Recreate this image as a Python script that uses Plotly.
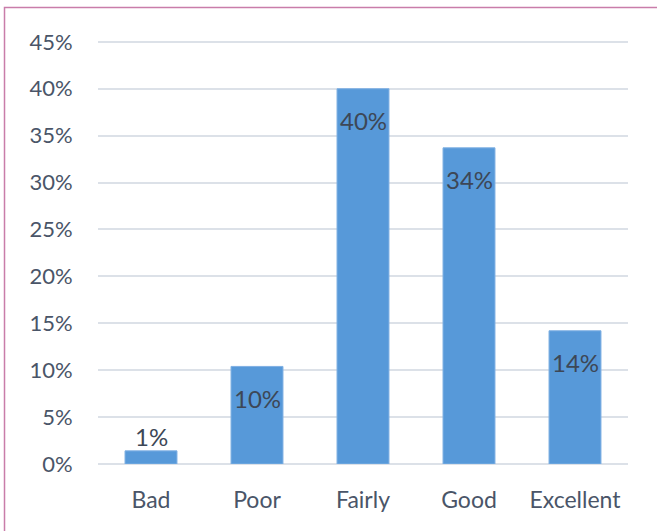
import plotly.graph_objects as go

categories = ["Bad", "Poor", "Fairly", "Good", "Excellent"]
values = [1.4, 10.4, 40.0, 33.7, 14.2]
labels = ["1%", "10%", "40%", "34%", "14%"]
tick_vals = [0, 5, 10, 15, 20, 25, 30, 35, 40, 45]
tick_text = ["0%", "5%", "10%", "15%", "20%", "25%", "30%", "35%", "40%", "45%"]

font_family = "Lato, 'Open Sans', sans-serif"
tick_color = "#4A5568"
label_color = "#3D4756"

fig = go.Figure()
fig.add_trace(go.Bar(
    x=categories, y=values,
    marker=dict(color="#5799D9", line=dict(color="#7FB0E3", width=1)),
    width=0.49,
    hoverinfo="skip",
))

for c, v, t in zip(categories, values, labels):
    inside = v > 5
    fig.add_annotation(
        x=c, y=v, text=t, showarrow=False,
        yshift=-32 if inside else 14,
        font=dict(family=font_family, size=24, color=label_color),
    )

fig.add_shape(
    type="rect", xref="paper", yref="paper",
    x0=-0.1764, x1=1.2, y0=-0.3, y1=1.074,
    line=dict(color="#C97DAA", width=1.5), fillcolor="rgba(0,0,0,0)",
    layer="below",
)

fig.update_layout(
    width=657, height=531,
    margin=dict(l=98, r=29, t=39, b=67),
    paper_bgcolor="white", plot_bgcolor="white",
    showlegend=False,
    bargap=0.51,
    font=dict(family=font_family, size=22, color=tick_color),
    xaxis=dict(
        showgrid=False, showline=False, zeroline=False,
        tickfont=dict(size=23, color=tick_color),
        ticks="outside", ticklen=15, tickcolor="rgba(0,0,0,0)",
    ),
    yaxis=dict(
        range=[0, 45.3], tickvals=tick_vals, ticktext=tick_text,
        showgrid=True, gridcolor="#DCE1E8", gridwidth=2,
        zeroline=True, zerolinecolor="#DCE1E8", zerolinewidth=2,
        showline=False,
        tickfont=dict(size=22, color=tick_color),
        ticks="outside", ticklen=20, tickcolor="rgba(0,0,0,0)",
    ),
)

fig.write_html("out.html")
